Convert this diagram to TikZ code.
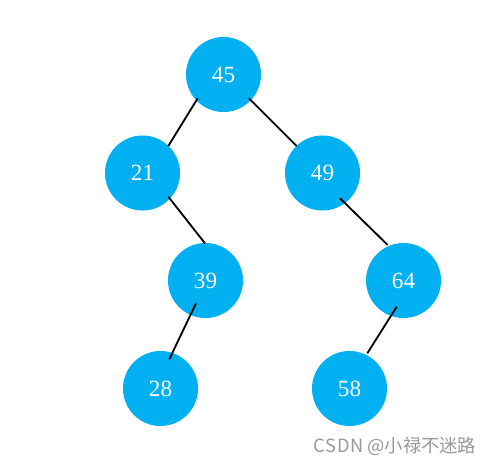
\documentclass[tikz,border=0pt]{standalone}
\usepackage{fontspec}
\setmainfont{Liberation Serif}
\newfontfamily\cjkfont{Noto Sans CJK SC}
\usepackage{tikz}
\definecolor{treeblue}{RGB}{0,176,240}

\begin{document}
\begin{tikzpicture}[x=0.025cm, y=-0.025cm,
    keynode/.style={circle, fill=treeblue, draw=none, minimum size=1.875cm, inner sep=0pt,
      text=white, font=\fontsize{16.5}{19}\selectfont},
    link/.style={line width=1.3pt, black}]
  \useasboundingbox (0,0) rectangle (497,467);

  % Keys
  \node[keynode] (n45) at (223.5,74.5) {45};
  \node[keynode] (n21) at (142.5,173) {21};
  \node[keynode] (n49) at (322.5,173) {49};
  \node[keynode] (n39) at (205.5,280.5) {39};
  \node[keynode] (n64) at (403.5,280.5) {64};
  \node[keynode] (n28) at (160.5,388.5) {28};
  \node[keynode] (n58) at (349.5,388.5) {58};

  % Links
  \draw[link] ([shift={(-25.8,23.8)}]n45.center) -- ([shift={(25.8,-27)}]n21.center);
  \draw[link] ([shift={(25.5,23.8)}]n45.center) -- ([shift={(-25.8,-27)}]n49.center);
  \draw[link] ([shift={(25.8,23.7)}]n21.center) -- ([shift={(-0.5,-37.2)}]n39.center);
  \draw[link] ([shift={(-9.5,22.8)}]n39.center) -- ([shift={(8.8,-29.2)}]n28.center);
  \draw[link] ([shift={(17.5,25.3)}]n49.center) -- ([shift={(-15.8,-35.5)}]n64.center);
  \draw[link] ([shift={(-6.8,26.2)}]n64.center) -- ([shift={(17.8,-35.2)}]n58.center);

  % Watermark
  \node[text=gray!80, font=\cjkfont\fontsize{13}{15}\selectfont] (mark) at (395,446)
    {C\kern0.3pt S\kern0.3pt D\kern0.3pt N @小禄不迷路};
\end{tikzpicture}
\end{document}
